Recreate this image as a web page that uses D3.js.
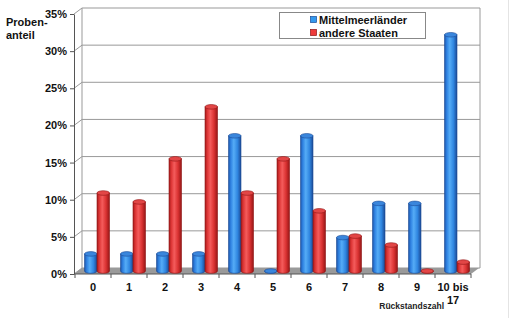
<!DOCTYPE html>
<html>
<head>
<meta charset="utf-8">
<script src="https://cdn.jsdelivr.net/npm/d3@7"></script>
<style>
  body { margin: 0; background: #fff; }
  svg { display: block; font-family: "Liberation Sans", Arial, sans-serif; }
</style>
</head>
<body>
<svg id="chart" width="510" height="318"></svg>
<script>
const categories = ['0', '1', '2', '3', '4', '5', '6', '7', '8', '9', '10 bis 17'];
const mittelmeer = [2.3, 2.3, 2.3, 2.3, 18.2, 0, 18.2, 4.5, 9.1, 9.1, 31.8];
const andere = [10.5, 9.3, 15.1, 22.1, 10.5, 15.1, 8.1, 4.7, 3.5, 0, 1.2];
const yTicks = [0, 5, 10, 15, 20, 25, 30, 35];
const seriesNames = ['Mittelmeerländer', 'andere Staaten'];

const svg = d3.select('#chart');
const depth = { x: 8, y: -6 };

const x = d3.scaleBand().domain(categories).range([75, 471]);
const y = d3.scaleLinear().domain([0, 35]).range([274, 14]);

const defs = svg.append('defs');
function gradient(id, stops) {
  const g = defs.append('linearGradient').attr('id', id)
    .attr('x1', 0).attr('x2', 1).attr('y1', 0).attr('y2', 0);
  stops.forEach(([o, c]) => g.append('stop').attr('offset', o).attr('stop-color', c));
}
gradient('blueBody', [[0, '#1d55a8'], [0.18, '#2f82e2'], [0.42, '#55acf6'], [0.72, '#3086e0'], [1, '#1b4a96']]);
gradient('redBody', [[0, '#a51c1c'], [0.18, '#dc3434'], [0.42, '#f45c5c'], [0.72, '#da3232'], [1, '#951616']]);

// floor
const x0 = x.range()[0] - 1, x1 = x.range()[1];
svg.append('polygon')
  .attr('points', [[x0, y(0)], [x1, y(0)], [x1 + depth.x, y(0) + depth.y], [x0 + depth.x, y(0) + depth.y]].join(' '))
  .attr('fill', '#9a9a9a');

// back wall gridlines
const grid = svg.append('g').attr('stroke', '#999').attr('fill', 'none');
yTicks.forEach(t => {
  grid.append('line')
    .attr('x1', x0 + depth.x).attr('x2', x1 + depth.x + 1)
    .attr('y1', y(t) + depth.y).attr('y2', y(t) + depth.y);
  grid.append('line')
    .attr('x1', x0).attr('x2', x0 + depth.x)
    .attr('y1', y(t)).attr('y2', y(t) + depth.y);
});
grid.append('line').attr('x1', x0 + depth.x).attr('x2', x0 + depth.x)
  .attr('y1', y(35) + depth.y).attr('y2', y(0) + depth.y);
grid.append('line').attr('x1', x1 + depth.x + 1).attr('x2', x1 + depth.x + 1)
  .attr('y1', y(35) + depth.y).attr('y2', y(0) + depth.y);

// y axis on the front edge
const yAxis = svg.append('g').attr('transform', `translate(${x0},0)`)
  .call(d3.axisLeft(y).tickValues(yTicks).tickSize(4).tickSizeOuter(0).tickFormat(d => d + '%'));
yAxis.select('.domain').attr('stroke', '#555');
yAxis.selectAll('.tick line').attr('stroke', '#555');
yAxis.selectAll('text').attr('font-size', 11).attr('font-weight', 'bold').attr('fill', '#111')
  .attr('font-family', '"Liberation Sans", Arial, sans-serif');

// x axis
const xAxis = svg.append('g').attr('transform', `translate(0,${y(0)})`);
xAxis.append('line').attr('x1', x0).attr('x2', x1).attr('stroke', '#555');
categories.concat(['end']).forEach((c, i) => {
  const px = i < categories.length ? x(c) : x1;
  xAxis.append('line').attr('x1', px).attr('x2', px).attr('y1', 0).attr('y2', 4).attr('stroke', '#555');
});
categories.forEach(c => {
  const parts = c === '10 bis 17' ? ['10 bis', '17'] : [c];
  const t = xAxis.append('text')
    .attr('x', x(c) + x.bandwidth() / 2)
    .attr('y', 17)
    .attr('text-anchor', 'middle')
    .attr('font-size', 11).attr('font-weight', 'bold').attr('fill', '#111');
  parts.forEach((p, j) => t.append('tspan').attr('x', x(c) + x.bandwidth() / 2).attr('dy', j ? 13 : 0).text(p));
});

// bars as cylinders
const barW = 12.5;
const ry = 2.3;
const bars = svg.append('g');
[[mittelmeer, 'blueBody', '#3a86dc', '#1b4a96', -1], [andere, 'redBody', '#e24646', '#8e1414', 0]].forEach(([values, grad, topFill, edge, off]) => {
  values.forEach((v, i) => {
    const left = x(categories[i]) + x.bandwidth() / 2 + off * barW + depth.x / 2;
    const right = left + barW;
    const rx = barW / 2;
    const yb = y(0) + depth.y / 2;
    const yt = y(v) + depth.y / 2;
    bars.append('path')
      .attr('d', `M${left},${yt} L${left},${yb} A${rx},${ry} 0 0 0 ${right},${yb} L${right},${yt} Z`)
      .attr('fill', `url(#${grad})`)
      .attr('stroke', edge).attr('stroke-width', 0.6);
    bars.append('ellipse')
      .attr('cx', left + rx).attr('cy', yt).attr('rx', rx).attr('ry', ry)
      .attr('fill', topFill).attr('stroke', edge).attr('stroke-width', 0.6);
  });
});

// y title
svg.append('text').attr('x', 6).attr('y', 26).attr('font-size', 11).attr('font-weight', 'bold')
  .attr('fill', '#111').text('Proben-');
svg.append('text').attr('x', 6).attr('y', 39).attr('font-size', 11).attr('font-weight', 'bold')
  .attr('fill', '#111').text('anteil');

// x title
svg.append('text').attr('x', 444).attr('y', 309).attr('text-anchor', 'end')
  .attr('font-size', 8.5).attr('font-weight', 'bold')
  .attr('fill', '#222').text('Rückstandszahl');

// legend
const legend = svg.append('g');
legend.append('rect').attr('x', 279.5).attr('y', 12.5).attr('width', 146).attr('height', 26)
  .attr('fill', '#fff').attr('stroke', '#888');
[['#3399ee', '#1b4a96'], ['#ee3a3a', '#8e1414']].forEach(([fill, edge], i) => {
  legend.append('rect').attr('x', 310.5).attr('y', 16.5 + i * 13).attr('width', 6).attr('height', 6)
    .attr('fill', fill).attr('stroke', edge).attr('stroke-width', 0.7);
  legend.append('text').attr('x', 319).attr('y', 23.5 + i * 13).attr('font-size', 11)
    .attr('font-weight', 'bold').attr('fill', '#111').text(seriesNames[i]);
});

// faint outer border on the right
svg.append('line').attr('x1', 508.5).attr('x2', 508.5).attr('y1', 0).attr('y2', 318).attr('stroke', '#e4e4e4');
</script>
</body>
</html>
